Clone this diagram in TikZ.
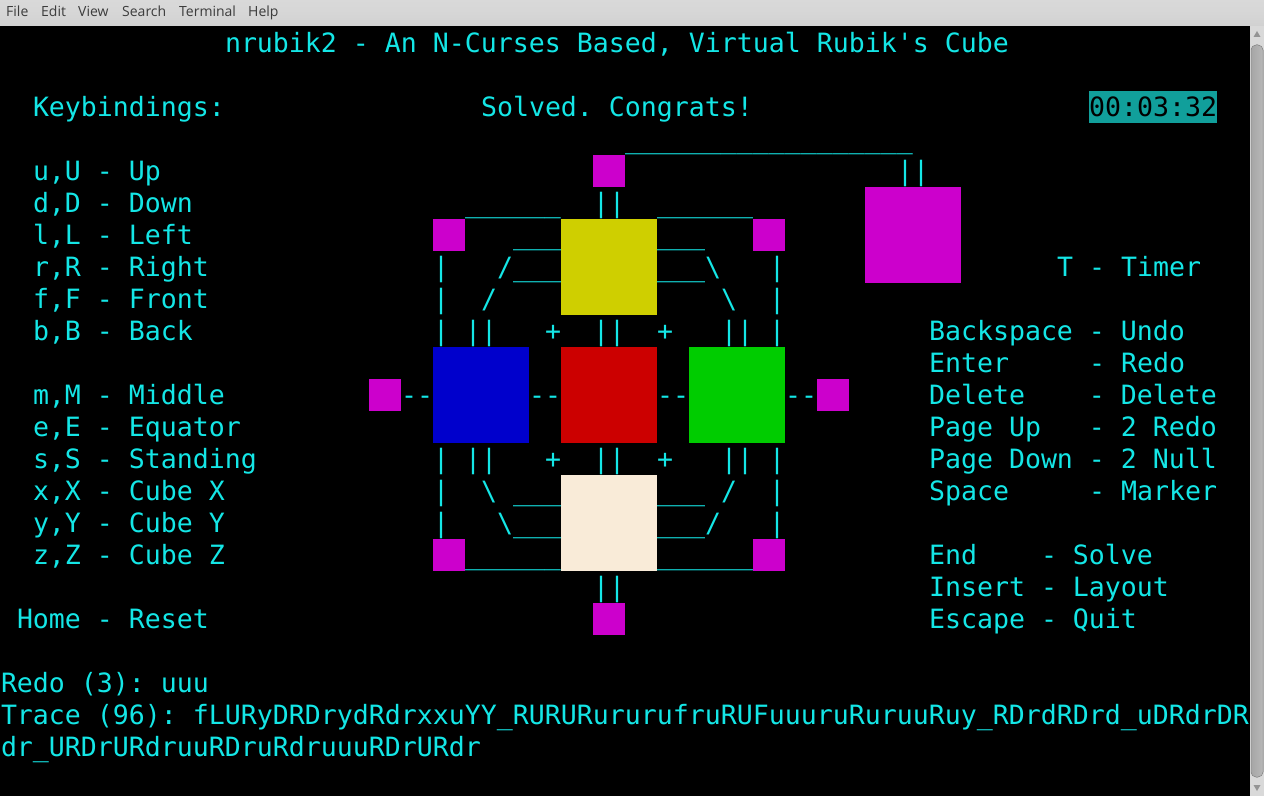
\documentclass[tikz,border=0pt]{standalone}
\usepackage{fontspec}
\newfontfamily\termfont{DejaVu Sans Mono}
\newfontfamily\menufont{Open Sans}
\frenchspacing
\definecolor{cy}{HTML}{14E6E6}
\definecolor{teal2}{HTML}{119F9B}
\definecolor{mag}{HTML}{CC00CC}
\definecolor{yel}{HTML}{CFCF00}
\definecolor{blu}{HTML}{0000CC}
\definecolor{rd}{HTML}{CC0000}
\definecolor{grn}{HTML}{00CC00}
\definecolor{wht}{HTML}{F9EBD8}
\definecolor{menutx}{HTML}{3C3C3C}
\tikzset{
  term/.style={anchor=base west,inner sep=0pt,outer sep=0pt,text=cy,font=\termfont\frenchspacing\fontsize{26.576bp}{32bp}\selectfont},
  menuitem/.style={anchor=base west,inner sep=0pt,text=menutx,font=\menufont\fontsize{14bp}{16bp}\selectfont},
  facelet/.style={inner sep=0pt,outer sep=0pt,minimum size=#1,anchor=north west},
  timer/.style={inner sep=0pt,fill=teal2,text=black,minimum width=128bp,minimum height=32bp,font=\termfont\fontsize{26.576bp}{32bp}\selectfont}
}
\newcommand{\tx}[4]{\node[term] (#1) at ({1+16*#2},{52.4+32*#3}) {#4};}
\newcommand{\bs}{\textbackslash}
\newcommand{\us}{\_}
\begin{document}
\begin{tikzpicture}[x=1bp,y=-1bp]
\useasboundingbox (0,0) rectangle (1264,796);
% window chrome
\fill[top color=white!85!black,bottom color=white!82!black,middle color=white!84!black] (0,0) rectangle (1264,26);
\fill[black] (0,26) rectangle (1250,796);
\fill[white!85!black] (1250,26) rectangle (1264,796);
\fill[white!58!black] (1257,31) -- (1253.5,37) -- (1260.5,37) -- cycle;
\fill[white!58!black] (1257,791) -- (1253.5,785) -- (1260.5,785) -- cycle;
\fill[left color=white!65!black,right color=white!72!black,draw=white!55!black,line width=.5bp,rounded corners=5bp] (1251,45) rectangle (1263,777);
\node[menuitem] (mFile) at (6,17) {File};
\node[menuitem] (mEdit) at (41,17) {Edit};
\node[menuitem] (mView) at (78,17) {View};
\node[menuitem] (mSearch) at (122,17) {Search};
\node[menuitem] (mTerminal) at (179,17) {Terminal};
\node[menuitem] (mHelp) at (248,17) {Help};
% cube faces
\node[facelet=96bp,fill=yel] (up) at (561,219) {};
\node[facelet=96bp,fill=blu] (left) at (433,347) {};
\node[facelet=96bp,fill=rd] (front) at (561,347) {};
\node[facelet=96bp,fill=grn] (right) at (689,347) {};
\node[facelet=96bp,fill=wht] (down) at (561,475) {};
\node[facelet=96bp,fill=mag] (back) at (865,187) {};
\node[facelet=32bp,fill=mag] (mT) at (593,155) {};
\node[facelet=32bp,fill=mag] (mUL) at (433,219) {};
\node[facelet=32bp,fill=mag] (mUR) at (753,219) {};
\node[facelet=32bp,fill=mag] (mL) at (369,379) {};
\node[facelet=32bp,fill=mag] (mR) at (817,379) {};
\node[facelet=32bp,fill=mag] (mDL) at (433,539) {};
\node[facelet=32bp,fill=mag] (mDR) at (753,539) {};
\node[facelet=32bp,fill=mag] (mB) at (593,603) {};
% header
\tx{title}{14}{0}{nrubik2 - An N-Curses Based, Virtual Rubik's Cube}
\tx{keyb}{2}{2}{Keybindings:}
\tx{solved}{30}{2}{Solved. Congrats!}
\node[timer] (clock) at (1153,107) {00:03:32};
% left key list
\tx{ku}{2}{4}{u,U - Up}
\tx{kd}{2}{5}{d,D - Down}
\tx{kl}{2}{6}{l,L - Left}
\tx{kr}{2}{7}{r,R - Right}
\tx{kf}{2}{8}{f,F - Front}
\tx{kb}{2}{9}{b,B - Back}
\tx{km}{2}{11}{m,M - Middle}
\tx{ke}{2}{12}{e,E - Equator}
\tx{ks}{2}{13}{s,S - Standing}
\tx{kx}{2}{14}{x,X - Cube X}
\tx{ky}{2}{15}{y,Y - Cube Y}
\tx{kz}{2}{16}{z,Z - Cube Z}
\tx{khome}{1}{18}{Home - Reset}
% right key list
\tx{kT}{66}{7}{T - Timer}
\tx{kback}{58}{9}{Backspace - Undo}
\tx{kent}{58}{10}{Enter~~~~~- Redo}
\tx{kdel}{58}{11}{Delete~~~~- Delete}
\tx{kpu}{58}{12}{Page Up~~~- 2 Redo}
\tx{kpd}{58}{13}{Page Down - 2 Null}
\tx{kspc}{58}{14}{Space~~~~~- Marker}
\tx{kend}{58}{16}{End~~~~- Solve}
\tx{kins}{58}{17}{Insert - Layout}
\tx{kesc}{58}{18}{Escape - Quit}
% footer
\tx{redo}{0}{20}{Redo (3): uuu}
\tx{trace}{0}{21}{Trace (96): fLURyDRDrydRdrxxuYY\us RURURururufruRUFuuuruRuruuRuy\us RDrdRDrd\us uDRdrDR}
\tx{traceb}{0}{22}{dr\us URDrURdruuRDruRdruuuRDrURdr}
% cube frame, drawn with terminal characters
\tx{a1}{39}{3}{\us\us\us\us\us\us\us\us\us\us\us\us\us\us\us\us\us\us}
\tx{a2}{56}{4}{||}
\tx{a3}{37}{5}{||}
\tx{a4}{29}{5}{\us\us\us\us\us\us}
\tx{a5}{41}{5}{\us\us\us\us\us\us}
\tx{a6}{32}{6}{\us\us\us}
\tx{a7}{41}{6}{\us\us\us}
\tx{a8}{27}{7}{|}
\tx{a9}{31}{7}{/\us\us\us}
\tx{a10}{41}{7}{\us\us\us\bs}
\tx{a11}{48}{7}{|}
\tx{a12}{27}{8}{|}
\tx{a13}{30}{8}{/}
\tx{a14}{45}{8}{\bs}
\tx{a15}{48}{8}{|}
\tx{a16}{27}{9}{|}
\tx{a17}{29}{9}{||}
\tx{a18}{34}{9}{+}
\tx{a19}{37}{9}{||}
\tx{a20}{41}{9}{+}
\tx{a21}{45}{9}{||}
\tx{a22}{48}{9}{|}
\tx{b1}{25}{11}{-{}-}
\tx{b2}{33}{11}{-{}-}
\tx{b3}{41}{11}{-{}-}
\tx{b4}{49}{11}{-{}-}
\tx{c1}{27}{13}{|}
\tx{c2}{29}{13}{||}
\tx{c3}{34}{13}{+}
\tx{c4}{37}{13}{||}
\tx{c5}{41}{13}{+}
\tx{c6}{45}{13}{||}
\tx{c7}{48}{13}{|}
\tx{c8}{27}{14}{|}
\tx{c9}{30}{14}{\bs}
\tx{c10}{32}{14}{\us\us\us}
\tx{c11}{41}{14}{\us\us\us}
\tx{c12}{45}{14}{/}
\tx{c13}{48}{14}{|}
\tx{c14}{27}{15}{|}
\tx{c15}{31}{15}{\bs\us\us\us}
\tx{c16}{41}{15}{\us\us\us/}
\tx{c17}{48}{15}{|}
\tx{c18}{29}{16}{\us\us\us\us\us\us}
\tx{c19}{41}{16}{\us\us\us\us\us\us}
\tx{c20}{37}{17}{||}
\end{tikzpicture}
\end{document}
